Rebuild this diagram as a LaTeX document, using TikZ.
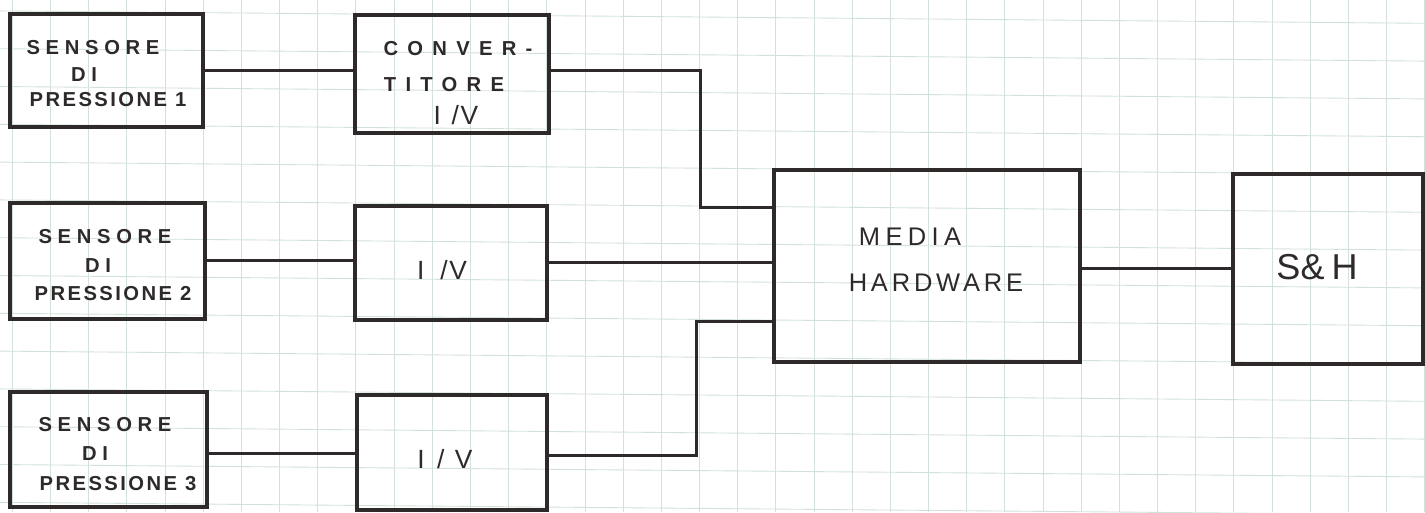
\documentclass[tikz,border=0pt]{standalone}
\usepackage{fontspec}
\setmainfont{Liberation Sans}
\newfontfamily\handA[LetterSpace=28]{Liberation Sans}
\newfontfamily\handB[LetterSpace=12]{Liberation Sans}
\newfontfamily\handC[LetterSpace=46]{Liberation Sans}
\newfontfamily\handD[LetterSpace=21]{Liberation Sans}
\newfontfamily\handE[LetterSpace=15]{Liberation Sans}
\definecolor{gridc}{HTML}{D2E2DB}
\definecolor{ink}{HTML}{2E2A2A}
\begin{document}
\begin{tikzpicture}[x=0.02cm,y=-0.02cm,
  box/.style={draw=ink,line width=1.8pt,inner sep=0pt},
  wire/.style={draw=ink,line width=1.7pt},
  gridline/.style={draw=gridc,line width=0.5pt},
  txt/.style={text=ink,inner sep=0pt,anchor=center},
  small/.style={txt,font=\handA\bfseries\fontsize{11.5}{13}\selectfont},
  smallb/.style={txt,font=\handB\bfseries\fontsize{11.5}{13}\selectfont},
  conv/.style={txt,font=\handC\bfseries\fontsize{11.5}{13}\selectfont},
  mid/.style={txt,font=\handD\fontsize{14.5}{16}\selectfont},
  midb/.style={txt,font=\handE\fontsize{14.5}{16}\selectfont},
  iv/.style={txt,font=\fontsize{15}{17}\selectfont},
  big/.style={txt,font=\fontsize{20.5}{22}\selectfont}]
\useasboundingbox[fill=white] (0,0) rectangle (1425,512);
% grid paper
\begin{scope}
\clip (0,0) rectangle (1425,512);
\foreach \k in {0,...,37} {\draw[gridline] ({12.4+38.17*\k},0) -- ({12.4+38.17*\k},512);}
\foreach \k in {0,...,13} {\draw[gridline] (0,{10.9+37.8*\k}) -- (1425,{23.3+37.8*\k});}
\end{scope}
% boxes
\node[box,minimum width=3.86cm,minimum height=2.26cm] (s1) at (106.5,70.5) {};
\node[box,minimum width=3.88cm,minimum height=2.36cm] (cv) at (452,74) {};
\node[box,minimum width=3.90cm,minimum height=2.32cm] (s2) at (107.5,261) {};
\node[box,minimum width=3.84cm,minimum height=2.28cm] (iv2) at (451,263) {};
\node[box,minimum width=3.94cm,minimum height=2.30cm] (s3) at (108.5,449.5) {};
\node[box,minimum width=3.80cm,minimum height=2.30cm] (iv3) at (452,452.5) {};
\node[box,minimum width=6.12cm,minimum height=3.84cm] (mh) at (927,266) {};
\node[box,minimum width=3.80cm,minimum height=3.80cm] (sh) at (1328,269) {};
% texts
\node[small]  (s1a) at (93,48) {SENSORE};
\node[small]  (s1b) at (84,75) {DI};
\node[smallb] (s1c) at (108,100) {PRESSIONE 1};
\node[conv]   (cva) at (458,49) {CONVER-};
\node[conv]   (cvb) at (444,85) {TITORE};
\node[iv]     (cvc) at (456,115) {I\hspace{6pt}/\hspace{1pt}V};
\node[small]  (s2a) at (105,237) {SENSORE};
\node[small]  (s2b) at (98,266) {DI};
\node[smallb] (s2c) at (113,294) {PRESSIONE 2};
\node[iv]     (iv2t) at (442,270) {I\hspace{9pt}/\hspace{1pt}V};
\node[small]  (s3a) at (105,425) {SENSORE};
\node[small]  (s3b) at (95,454) {DI};
\node[smallb] (s3c) at (118,484) {PRESSIONE 3};
\node[iv]     (iv3t) at (445,459) {I\hspace{7pt}/\hspace{6pt}V};
\node[mid]    (mha) at (910,237) {MEDIA};
\node[midb]   (mhb) at (936,283) {HARDWARE};
\node[big]    (sht) at (1317,267) {S\&\hspace{4pt}H};
% connectors
\coordinate (y1) at (0,70.7);
\coordinate (b1) at (700,70.7);
\coordinate (b2) at (700,207.7);
\coordinate (y2) at (0,260);
\coordinate (y2b) at (0,262);
\coordinate (y3) at (0,453.3);
\coordinate (b3) at (696,455);
\coordinate (b4) at (696,321.7);
\coordinate (y4) at (0,268);
\draw[wire] (y1 -| s1.east) -- (y1 -| cv.west);
\draw[wire] (b1 -| cv.east) -- (b1) -- (b2) -- (b2 -| mh.west);
\draw[wire] (y2 -| s2.east) -- (y2 -| iv2.west);
\draw[wire] (y2b -| iv2.east) -- (y2b -| mh.west);
\draw[wire] (y3 -| s3.east) -- (y3 -| iv3.west);
\draw[wire] (b3 -| iv3.east) -- (b3) -- (b4) -- (b4 -| mh.west);
\draw[wire] (y4 -| mh.east) -- (y4 -| sh.west);
\end{tikzpicture}
\end{document}
